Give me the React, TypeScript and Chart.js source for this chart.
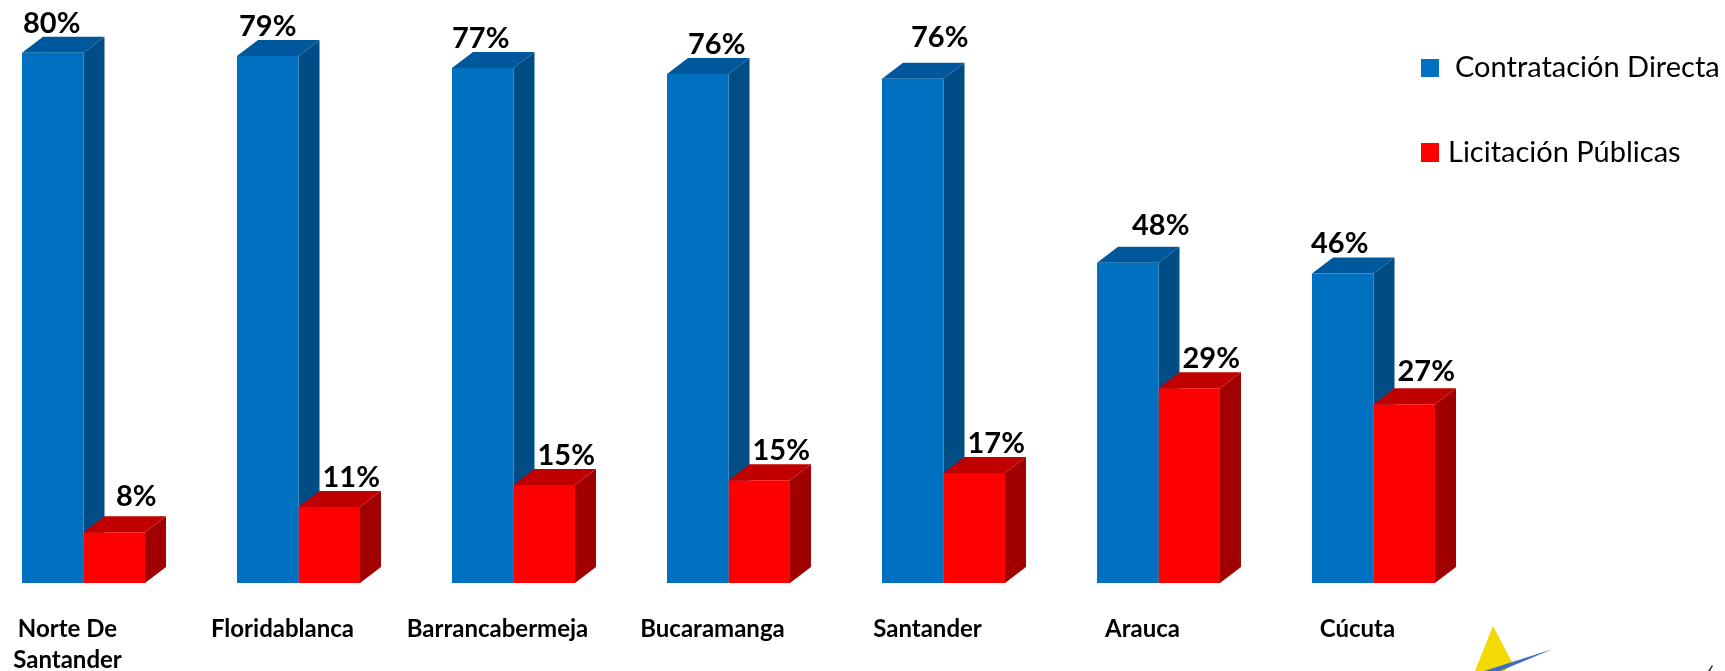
import React, { useEffect, useRef } from 'react';
import { Chart, registerables } from 'chart.js';

Chart.register(...registerables);

// ---- data ----
const categories: (string | string[])[] = [
  ['Norte De', 'Santander'],
  'Floridablanca',
  'Barrancabermeja',
  'Bucaramanga',
  'Santander',
  'Arauca',
  'Cúcuta',
];
const contratacionDirecta = [79.5, 79.0, 77.2, 76.3, 75.6, 48.0, 46.4];
const licitacionPublicas = [7.6, 11.4, 14.7, 15.4, 16.5, 29.2, 26.8];
const seriesNames = ['Contratación Directa', 'Licitación Públicas'];

// label nudges (pixels), kept separate from the data
const blueNudgeX = [-1, 0, -2, 19, 27, 33, -3];
const blueNudgeY = [0, 0, 0, 0, -12, -8, 0];
const redNudgeY = [-6, 0, 0, 0, 0, 0, -3];

// ---- styles ----
const FRONT = ['#0070C0', '#FF0000'];
const TOP = ['#00589C', '#C00000'];
const SIDE = ['#004C84', '#A00000'];
const DX = 21;
const DY = 16;
const SHIFT = 40;
const W = 1725;
const H = 671;
const FONT = 'Lato, "Open Sans", "DejaVu Sans", sans-serif';

function poly(ctx: CanvasRenderingContext2D, pts: number[][], color: string) {
  ctx.beginPath();
  ctx.moveTo(pts[0][0], pts[0][1]);
  for (let k = 1; k < pts.length; k++) ctx.lineTo(pts[k][0], pts[k][1]);
  ctx.closePath();
  ctx.fillStyle = color;
  ctx.fill();
}

export default function App() {
  const ref = useRef<HTMLCanvasElement>(null);

  useEffect(() => {
    const canvas = ref.current!;

    const plugin = {
      id: 'bars3d',
      beforeDatasetsDraw(chart: any) {
        const ctx = chart.ctx as CanvasRenderingContext2D;
        ctx.save();
        for (let i = 0; i < categories.length; i++) {
          chart.data.datasets.forEach((_ds: any, d: number) => {
            const el = chart.getDatasetMeta(d).data[i];
            const { x, y, base, width } = el.getProps(['x', 'y', 'base', 'width'], true);
            const l = x - width / 2;
            const r = x + width / 2;
            poly(ctx, [[r, y], [r + DX, y - DY], [r + DX, base - DY], [r, base]], SIDE[d]);
            poly(ctx, [[l, y], [l + DX, y - DY], [r + DX, y - DY], [r, y]], TOP[d]);
          });
        }
        ctx.restore();
      },
      afterDatasetsDraw(chart: any) {
        const ctx = chart.ctx as CanvasRenderingContext2D;
        ctx.save();
        ctx.fillStyle = '#000';
        ctx.font = `bold 29px ${FONT}`;
        ctx.textAlign = 'center';
        ctx.textBaseline = 'alphabetic';
        for (let i = 0; i < categories.length; i++) {
          const b = chart.getDatasetMeta(0).data[i].getProps(['x', 'y'], true);
          ctx.fillText(Math.round(contratacionDirecta[i]) + '%', b.x + blueNudgeX[i], b.y - 20 + blueNudgeY[i]);
          const r = chart.getDatasetMeta(1).data[i].getProps(['x', 'y'], true);
          ctx.fillText(Math.round(licitacionPublicas[i]) + '%', r.x + 22, r.y - 20 + redNudgeY[i]);
        }
        ctx.restore();
      },
      afterDraw(chart: any) {
        const ctx = chart.ctx as CanvasRenderingContext2D;
        const xs = chart.scales.x;
        ctx.save();
        // category labels
        ctx.fillStyle = '#000';
        ctx.font = `bold 24px ${FONT}`;
        ctx.textAlign = 'center';
        ctx.textBaseline = 'alphabetic';
        categories.forEach((c, i) => {
          const cx = xs.getPixelForValue(i) - 16;
          const lines = Array.isArray(c) ? c : [c];
          lines.forEach((t, k) => ctx.fillText(t, cx, 637 + k * 31));
        });
        // legend
        ctx.textAlign = 'left';
        ctx.font = `29px ${FONT}`;
        ctx.fillStyle = FRONT[0];
        ctx.fillRect(1421 + SHIFT, 59, 18, 18);
        ctx.fillStyle = '#000';
        ctx.fillText(seriesNames[0], 1455 + SHIFT, 77);
        ctx.fillStyle = FRONT[1];
        ctx.fillRect(1421 + SHIFT, 143, 18, 19);
        ctx.fillStyle = '#000';
        ctx.fillText(seriesNames[1], 1448 + SHIFT, 162);
        // partial logo at bottom right
        poly(ctx, [[1475 + SHIFT, 671], [1493 + SHIFT, 626], [1512 + SHIFT, 662], [1505 + SHIFT, 671]], '#F2DA00');
        poly(ctx, [[1484 + SHIFT, 671], [1553 + SHIFT, 649], [1500 + SHIFT, 671]], '#3F6FC2');
        poly(ctx, [[1708 + SHIFT, 671], [1712 + SHIFT, 665], [1713 + SHIFT, 666], [1710 + SHIFT, 671]], '#333');
        ctx.restore();
      },
    };

    const chart = new Chart(canvas, {
      type: 'bar',
      data: {
        labels: categories as any,
        datasets: [
          {
            label: seriesNames[0],
            data: contratacionDirecta,
            backgroundColor: FRONT[0],
            borderWidth: 0,
            categoryPercentage: 0.572,
            barPercentage: 1,
          },
          {
            label: seriesNames[1],
            data: licitacionPublicas,
            backgroundColor: FRONT[1],
            borderWidth: 0,
            categoryPercentage: 0.572,
            barPercentage: 1,
          },
        ],
      },
      options: {
        responsive: false,
        animation: false,
        devicePixelRatio: 1,
        layout: { padding: { left: 16, right: 244, top: 16, bottom: 88 } },
        scales: {
          x: { display: false, offset: true },
          y: { display: false, min: 0, max: 85 },
        },
        plugins: {
          legend: { display: false },
          tooltip: { enabled: false },
        },
      },
      plugins: [plugin],
    });

    return () => chart.destroy();
  }, []);

  return (
    <div
      style={{
        position: 'fixed',
        left: 0,
        top: 0,
        width: W,
        height: H,
        overflow: 'hidden',
        background: '#fff',
      }}
    >
      <canvas
        ref={ref}
        width={W + SHIFT}
        height={H}
        style={{ position: 'absolute', left: -SHIFT, top: 0, width: W + SHIFT, height: H }}
      />
    </div>
  );
}
